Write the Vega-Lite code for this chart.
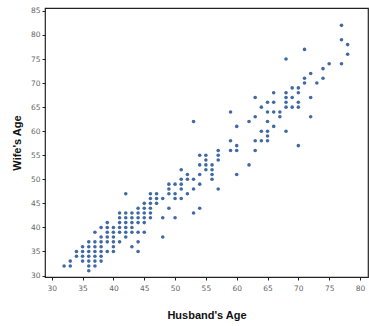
{
  "$schema": "https://vega.github.io/schema/vega-lite/v6.json",
  "width": 323,
  "height": 269,
  "autosize": "none",
  "padding": {"left": 45, "top": 8, "right": 1, "bottom": 49},
  "background": "white",
  "config": {
    "view": {"stroke": "#222", "strokeWidth": 1.2},
    "axis": {
      "labelFont": "DejaVu Sans",
      "labelFontSize": 7.5,
      "labelColor": "#666",
      "tickColor": "#222",
      "tickSize": 3,
      "domain": false,
      "grid": false,
      "titleFont": "Liberation Sans",
      "titleFontSize": 11,
      "titleFontWeight": "bold",
      "titleColor": "#111"
    }
  },
  "data": {
    "values": [
      {"h":32,"w":32},{"h":33,"w":33},{"h":33,"w":32},
      {"h":34,"w":35},{"h":34,"w":34},
      {"h":35,"w":36},{"h":35,"w":35},{"h":35,"w":34},{"h":35,"w":33},
      {"h":36,"w":37},{"h":36,"w":36},{"h":36,"w":35},{"h":36,"w":34},{"h":36,"w":33},{"h":36,"w":32},{"h":36,"w":31},
      {"h":37,"w":39},{"h":37,"w":37},{"h":37,"w":36},{"h":37,"w":35},{"h":37,"w":34},{"h":37,"w":33},{"h":37,"w":32},
      {"h":38,"w":40},{"h":38,"w":38},{"h":38,"w":37},{"h":38,"w":36},{"h":38,"w":35},{"h":38,"w":34},{"h":38,"w":33},
      {"h":39,"w":41},{"h":39,"w":40},{"h":39,"w":39},{"h":39,"w":38},{"h":39,"w":37},{"h":39,"w":35},
      {"h":40,"w":40},{"h":40,"w":39},{"h":40,"w":38},{"h":40,"w":37},{"h":40,"w":36},{"h":40,"w":35},
      {"h":41,"w":43},{"h":41,"w":42},{"h":41,"w":41},{"h":41,"w":40},{"h":41,"w":39},{"h":41,"w":37},
      {"h":42,"w":47},{"h":42,"w":43},{"h":42,"w":42},{"h":42,"w":41},{"h":42,"w":40},{"h":42,"w":39},{"h":42,"w":38},
      {"h":43,"w":43},{"h":43,"w":42},{"h":43,"w":41},{"h":43,"w":40},{"h":43,"w":39},{"h":43,"w":36},
      {"h":44,"w":44},{"h":44,"w":43},{"h":44,"w":42},{"h":44,"w":41},{"h":44,"w":39},{"h":44,"w":37},{"h":44,"w":35},
      {"h":45,"w":45},{"h":45,"w":44},{"h":45,"w":43},{"h":45,"w":42},{"h":45,"w":41},{"h":45,"w":39},
      {"h":46,"w":47},{"h":46,"w":46},{"h":46,"w":45},{"h":46,"w":44},{"h":46,"w":43},{"h":46,"w":42},
      {"h":47,"w":47},{"h":47,"w":46},{"h":47,"w":45},
      {"h":48,"w":46},{"h":48,"w":42},{"h":48,"w":38},
      {"h":49,"w":49},{"h":49,"w":48},{"h":49,"w":47},{"h":49,"w":44},
      {"h":50,"w":49},{"h":50,"w":47},{"h":50,"w":46},{"h":50,"w":42},
      {"h":51,"w":52},{"h":51,"w":50},{"h":51,"w":49},{"h":51,"w":48},{"h":51,"w":46},
      {"h":52,"w":51},{"h":52,"w":50},{"h":52,"w":47},
      {"h":53,"w":62},{"h":53,"w":50},{"h":53,"w":48},{"h":53,"w":43},
      {"h":54,"w":55},{"h":54,"w":53},{"h":54,"w":51},{"h":54,"w":49},{"h":54,"w":44},
      {"h":55,"w":55},{"h":55,"w":54},{"h":55,"w":53},{"h":55,"w":52},
      {"h":56,"w":53},{"h":56,"w":52},{"h":56,"w":51},{"h":56,"w":50},
      {"h":57,"w":56},{"h":57,"w":55},{"h":57,"w":54},{"h":57,"w":48},
      {"h":59,"w":64},{"h":59,"w":58},{"h":59,"w":56},
      {"h":60,"w":61},{"h":60,"w":57},{"h":60,"w":56},{"h":60,"w":51},
      {"h":62,"w":62},{"h":62,"w":53},
      {"h":63,"w":67},{"h":63,"w":63},{"h":63,"w":58},{"h":63,"w":56},
      {"h":64,"w":65},{"h":64,"w":60},{"h":64,"w":58},
      {"h":65,"w":66},{"h":65,"w":64},{"h":65,"w":62},{"h":65,"w":60},{"h":65,"w":59},{"h":65,"w":58},
      {"h":66,"w":68},{"h":66,"w":66},{"h":66,"w":64},{"h":66,"w":61},
      {"h":67,"w":64},{"h":67,"w":63},
      {"h":68,"w":75},{"h":68,"w":68},{"h":68,"w":67},{"h":68,"w":66},{"h":68,"w":65},{"h":68,"w":60},
      {"h":69,"w":69},{"h":69,"w":67},{"h":69,"w":65},
      {"h":70,"w":69},{"h":70,"w":68},{"h":70,"w":66},{"h":70,"w":65},{"h":70,"w":57},
      {"h":71,"w":77},{"h":71,"w":71},{"h":71,"w":70},
      {"h":72,"w":72},{"h":72,"w":67},{"h":72,"w":63},
      {"h":73,"w":70},
      {"h":74,"w":73},{"h":74,"w":71},
      {"h":75,"w":74},
      {"h":77,"w":82},{"h":77,"w":79},{"h":77,"w":74},
      {"h":78,"w":78},{"h":78,"w":76}
    ]
  },
  "mark": {"type": "point", "filled": true, "size": 13, "color": "#4169a3", "opacity": 1},
  "encoding": {
    "x": {
      "field": "h", "type": "quantitative", "title": "Husband's Age",
      "scale": {"domain": [28.9, 81.3], "nice": false, "zero": false},
      "axis": {"values": [30,35,40,45,50,55,60,65,70,75,80], "labelPadding": 4, "titlePadding": 18}
    },
    "y": {
      "field": "w", "type": "quantitative", "title": "Wife's Age",
      "scale": {"domain": [29.7, 85.6], "nice": false, "zero": false},
      "axis": {"values": [30,35,40,45,50,55,60,65,70,75,80,85], "labelPadding": 2, "titlePadding": 8}
    }
  }
}
